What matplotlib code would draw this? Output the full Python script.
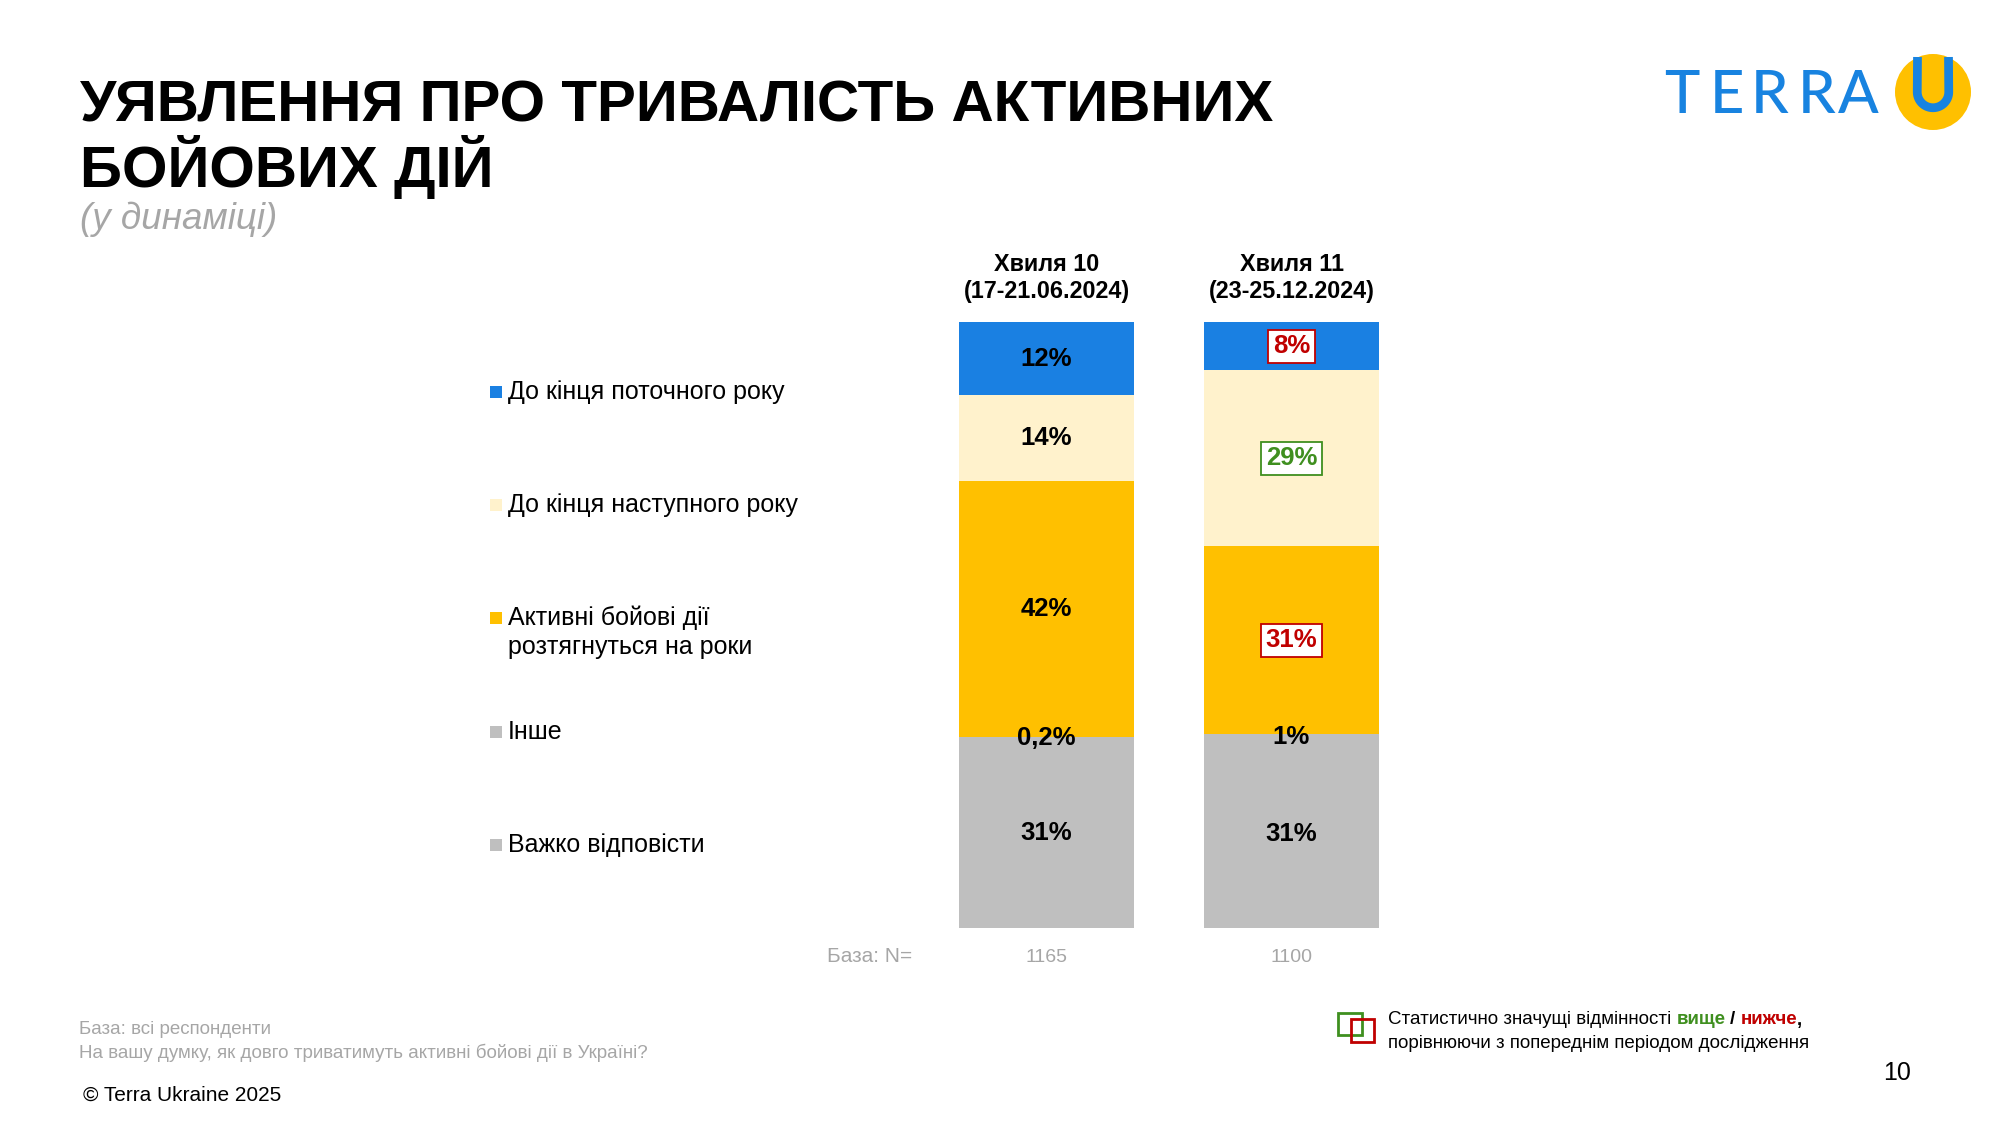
import numpy as np
import matplotlib
matplotlib.use("Agg")
import matplotlib.pyplot as plt
from matplotlib import transforms
from matplotlib.patches import Rectangle, Ellipse
from matplotlib.lines import Line2D

plt.rcParams['font.family'] = ['Liberation Sans', 'DejaVu Sans']

W, H = 2000, 1125

title_lines = ["УЯВЛЕННЯ ПРО ТРИВАЛІСТЬ АКТИВНИХ", "БОЙОВИХ ДІЙ"]
subtitle = "(у динаміці)"
waves = ["Хвиля 10\n(17-21.06.2024)", "Хвиля 11\n(23-25.12.2024)"]
base_n = [1165, 1100]
categories = ["До кінця поточного року", "До кінця наступного року",
              "Активні бойові дії\nрозтягнуться на роки", "Інше", "Важко відповісти"]
wave10 = [12, 14, 42, 0.2, 31]
wave11 = [8, 29, 31, 1, 31]
# +1 = significantly higher, -1 = significantly lower than previous wave
signif10 = [0, 0, 0, 0, 0]
signif11 = [-1, 1, -1, 0, 0]

colors = ["#1A80E2", "#FFF2CC", "#FFC000", "#BFBFBF", "#BFBFBF"]
green = "#3F8F1F"
red = "#C00000"
grey_txt = "#A6A6A6"


def fy(y):
    # pixel row from top -> figure fraction
    return 1 - y / H


def fmt(v):
    if v != int(v):
        return ("%.1f" % v).replace(".", ",") + "%"
    return "%d%%" % v


fig = plt.figure(figsize=(20, 11.25), dpi=100)
fig.patch.set_facecolor("white")

# bars
ax = fig.add_axes([924 / W, 197 / H, 490 / W, 606 / H])
series = [wave10, wave11]
signif = [signif10, signif11]
xs = np.arange(len(series))
for k, vals in enumerate(series):
    vals = np.array(vals, dtype=float)
    share = vals / vals.sum() * 100
    top = 100.0
    for i, v in enumerate(share):
        bottom = top - v
        ax.bar(xs[k], v, bottom=bottom, width=0.714, color=colors[i], linewidth=0)
        s = signif[k][i]
        if s == 0:
            ax.text(xs[k], bottom + v / 2, fmt(vals[i]), ha="center", va="center",
                    fontsize=18.5, fontweight="bold", color="black")
        else:
            c = green if s > 0 else red
            ax.text(xs[k], bottom + v / 2, fmt(vals[i]), ha="center", va="center",
                    fontsize=18.5, fontweight="bold", color=c,
                    bbox=dict(boxstyle="square,pad=0.18", fc="white", ec=c, lw=1.3))
        top = bottom
ax.set_xlim(-0.5, 1.5)
ax.set_ylim(0, 100)
ax.axis("off")

bt = transforms.blended_transform_factory(ax.transData, fig.transFigure)
for k in range(len(waves)):
    ax.text(xs[k], fy(278), waves[k], transform=bt, ha="center", va="center",
            fontsize=16.8, fontweight="bold", linespacing=1.2)
    ax.text(xs[k], fy(957), str(base_n[k]), transform=bt, ha="center", va="center",
            fontsize=14, color=grey_txt)
fig.text(912 / W, fy(957), "База: N=", ha="right", va="center", fontsize=15, color=grey_txt)

# legend on the left
legend_y = [392, 505, 618, 732, 845]
for i, lab in enumerate(categories):
    y = legend_y[i]
    fig.patches.append(Rectangle((490 / W, fy(y + 6)), 12 / W, 12 / H, transform=fig.transFigure,
                                 facecolor=colors[i], edgecolor="none"))
    for j, line in enumerate(lab.split("\n")):
        fig.text(508 / W, fy(y + j * 29), line, ha="left", va="center", fontsize=18)

# title block
fig.text(80 / W, fy(122), title_lines[0], ha="left", va="baseline", fontsize=42, fontweight="bold")
fig.text(80 / W, fy(187), title_lines[1], ha="left", va="baseline", fontsize=42, fontweight="bold")
fig.text(80 / W, fy(219), subtitle, ha="left", va="center", fontsize=26.5, style="italic", color=grey_txt)

# logo
logo_blue = "#1883E0"
for ch, x in zip("TERRA", [1682, 1727, 1770, 1817, 1858]):
    fig.text(x / W, fy(113), ch, ha="center", va="baseline", fontsize=43,
             color=logo_blue, family=["Lato", "DejaVu Sans"], fontweight="medium")
fig.patches.append(Ellipse((1933 / W, fy(92)), 76 / W, 76 / H, transform=fig.transFigure,
                           facecolor="#FFC000", edgecolor="none"))
ang = np.linspace(np.pi, 2 * np.pi, 40)
ux = np.concatenate([[1917.5], 1933 + 15.75 * np.cos(ang), [1948.5]])
uy = np.concatenate([[57], 92 - 15.75 * np.sin(ang), [57]])
fig.lines.append(Line2D(ux / W, fy(uy), transform=fig.transFigure, color=logo_blue,
                        lw=6.3, solid_capstyle="butt"))

# footer
fig.text(79 / W, fy(1030), "База: всі респонденти", ha="left", va="center", fontsize=13.5, color=grey_txt)
fig.text(79 / W, fy(1053), "На вашу думку, як довго триватимуть активні бойові дії в Україні?",
         ha="left", va="center", fontsize=13.5, color=grey_txt)
fig.text(83 / W, fy(1095), "© Terra Ukraine 2025", ha="left", va="center", fontsize=15)
fig.text(1897 / W, fy(1073), "10", ha="center", va="center", fontsize=18)

# significance note
fig.patches.append(Rectangle((1338 / W, fy(1035)), 24 / W, 22 / H, transform=fig.transFigure,
                             fill=False, edgecolor=green, lw=2))
fig.patches.append(Rectangle((1351 / W, fy(1042)), 23 / W, 23 / H, transform=fig.transFigure,
                             fill=False, edgecolor=red, lw=2))
renderer = fig.canvas.get_renderer()
pieces = [("Статистично значущі відмінності", "black", "normal", 5),
          ("вище", green, "bold", 5),
          ("/", "black", "bold", 5),
          ("нижче", red, "bold", 0),
          (",", "black", "bold", 0)]
x = 1388
for s, c, w, gap in pieces:
    t = fig.text(x / W, fy(1020), s, ha="left", va="center", fontsize=13.5, color=c, fontweight=w)
    x = t.get_window_extent(renderer).x1 + gap
fig.text(1388 / W, fy(1043), "порівнюючи з попереднім періодом дослідження",
         ha="left", va="center", fontsize=13.5)

fig.savefig("out.png", dpi=100)
